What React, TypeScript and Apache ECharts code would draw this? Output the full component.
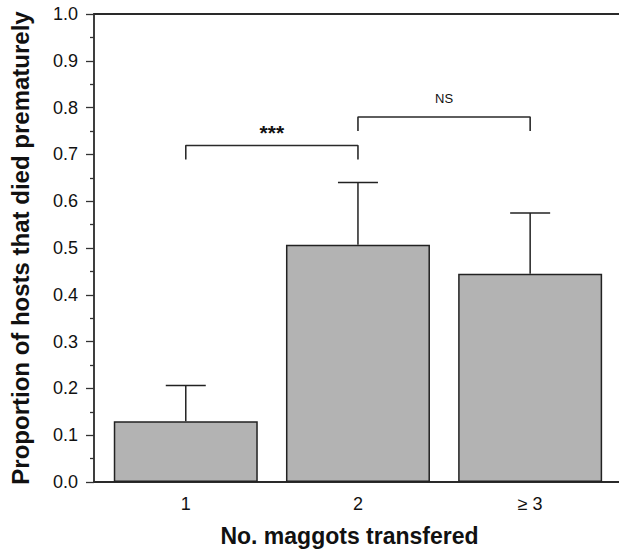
import React, { useEffect, useRef } from "react";
import * as echarts from "echarts";

const categories = ["1", "2", "≥ 3"];
const categoryPositions = [1, 2, 3];
const proportions = [0.13, 0.507, 0.445];
const errorUpper = [0.206, 0.64, 0.575];
const yTicks = [0, 0.1, 0.2, 0.3, 0.4, 0.5, 0.6, 0.7, 0.8, 0.9, 1.0];
const bracket1 = [[1, 0.689], [1, 0.719], [2, 0.719], [2, 0.689]];
const bracket2 = [[2, 0.75], [2, 0.78], [3, 0.78], [3, 0.75]];
const sigX = [1.5, 2.5];
const sigY = [0.747, 0.819];
const sigText = ["***", "NS"];

const FONT = "'Liberation Sans', Arial, Helvetica, sans-serif";
const X_MIN = 0.467;
const X_MAX = 3.516;

export default function App() {
  const ref = useRef<HTMLDivElement>(null);
  useEffect(() => {
    document.body.style.margin = "0";
    const chart = echarts.init(ref.current!, null, { renderer: "svg" });
    const axisLineStyle = { color: "#2a2a2a", width: 1.8 };
    chart.setOption({
      animation: false,
      backgroundColor: "#fff",
      grid: { left: 90, right: 0, top: 14, bottom: 68 },
      xAxis: [
        {
          type: "value",
          min: X_MIN,
          max: X_MAX,
          name: "No. maggots transfered",
          nameLocation: "middle",
          nameGap: 42,
          nameTextStyle: { fontFamily: FONT, fontWeight: "bold", fontSize: 23, color: "#111", padding: [0, 14, 0, 0] },
          axisLine: { show: true, lineStyle: axisLineStyle },
          axisTick: { show: false },
          splitLine: { show: false },
          axisLabel: {
            customValues: categoryPositions,
            fontFamily: FONT,
            fontSize: 18,
            color: "#111",
            margin: 13,
            formatter: (v: number) => {
              const i = categoryPositions.indexOf(Math.round(v));
              return i >= 0 && Math.abs(v - Math.round(v)) < 1e-6 ? categories[i] : "";
            },
          },
        },
        {
          type: "value",
          position: "top",
          min: X_MIN,
          max: X_MAX,
          axisLine: { show: true, lineStyle: axisLineStyle },
          axisTick: { show: false },
          axisLabel: { show: false },
          splitLine: { show: false },
        },
      ],
      yAxis: {
        type: "value",
        min: 0,
        max: 1,
        interval: 0.1,
        name: "Proportion of hosts that died prematurely",
        nameLocation: "middle",
        nameGap: 62,
        nameTextStyle: { fontFamily: FONT, fontWeight: "bold", fontSize: 24, color: "#111" },
        axisLine: { show: true, lineStyle: axisLineStyle },
        axisTick: { show: true, inside: false, length: 8, lineStyle: { color: "#333", width: 1.3 } },
        minorTick: { show: true, splitNumber: 2, length: 4, lineStyle: { color: "#333", width: 1.3 } },
        splitLine: { show: false },
        axisLabel: {
          fontFamily: FONT,
          fontSize: 18,
          color: "#111",
          margin: 16,
          customValues: yTicks,
          formatter: (v: number) => v.toFixed(1),
        },
      },
      series: [
        {
          type: "bar",
          barWidth: 144,
          data: categoryPositions.map((x, i) => [x, proportions[i]]),
          itemStyle: { color: "#b3b3b3", borderColor: "#222", borderWidth: 1.5 },
          z: 2,
        },
        {
          type: "custom",
          z: 3,
          data: categoryPositions.map((x, i) => [x, proportions[i], errorUpper[i]]),
          renderItem: (params: any, api: any) => {
            const x = api.value(0);
            const p0 = api.coord([x, api.value(1)]);
            const p1 = api.coord([x, api.value(2)]);
            const style = { stroke: "#222", lineWidth: 1.5 };
            return {
              type: "group",
              children: [
                { type: "line", shape: { x1: p0[0], y1: p0[1], x2: p1[0], y2: p1[1] }, style },
                { type: "line", shape: { x1: p1[0] - 20, y1: p1[1], x2: p1[0] + 20, y2: p1[1] }, style },
              ],
            };
          },
        },
        {
          type: "line",
          data: bracket1,
          symbol: "none",
          lineStyle: { color: "#2a2a2a", width: 1.6 },
          z: 3,
        },
        {
          type: "line",
          data: bracket2,
          symbol: "none",
          lineStyle: { color: "#2a2a2a", width: 1.6 },
          z: 3,
        },
        {
          type: "custom",
          z: 4,
          data: sigX.map((x, i) => [x, sigY[i], i]),
          renderItem: (params: any, api: any) => {
            const idx = api.value(2);
            const p = api.coord([api.value(0), api.value(1)]);
            const isStars = idx === 0;
            return {
              type: "text",
              x: p[0],
              y: p[1],
              style: {
                text: sigText[idx],
                fontFamily: FONT,
                fontSize: isStars ? 21 : 13,
                fontWeight: isStars ? "bold" : "normal",
                fill: "#111",
                align: "center",
                verticalAlign: "middle",
              },
            };
          },
        },
      ],
    });
    return () => chart.dispose();
  }, []);
  return <div ref={ref} style={{ width: 619, height: 552 }} />;
}
